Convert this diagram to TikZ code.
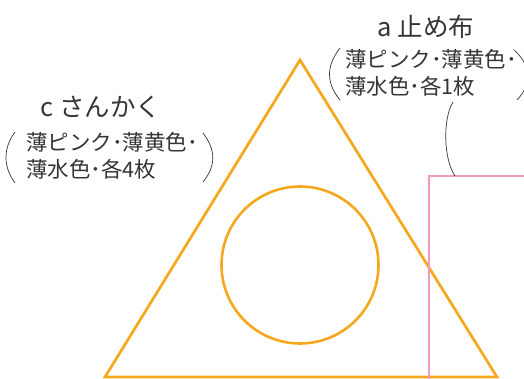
\documentclass[tikz,border=0pt]{standalone}
\usepackage{fontspec}
\usepackage{tikz}
\usepackage{xcolor}
\usetikzlibrary{positioning}
\newfontfamily\jpfont{Noto Sans CJK JP}
\definecolor{sbink}{RGB}{55, 52, 51}
\definecolor{sborange}{RGB}{245, 168, 30}
\definecolor{sbpink}{RGB}{243, 152, 194}
\tikzset{
    titlelabel/.style={text=sbink, inner sep=0pt, font=\jpfont\fontsize{25.5pt}{30pt}\selectfont},
    notelabel/.style={text=sbink, inner sep=0pt, align=left, anchor=west, font=\jpfont\fontsize{21.5pt}{26.5pt}\selectfont},
    paren/.style={draw=sbink, line width=0.7pt},
    leader/.style={draw=sbink, line width=0.7pt},
    cutline/.style={line width=2.7pt, line join=miter},
}

\begin{document}
\begin{tikzpicture}[x=1pt, y=-1pt]
    \useasboundingbox (0,0) rectangle (524,379);
    \clip (0,0) rectangle (524,379);
    % pieces
    \draw[cutline, draw=sborange] (300,60) -- (105,377) -- (497,377) -- cycle;
    \draw[cutline, draw=sborange, line width=2.6pt] (300,265) circle[radius=78.5];
    \draw[cutline, draw=sbpink, line width=2.6pt] (540,176) -- (429,176) -- (429,400);
    % c label
    \node[titlelabel] (ctitle) at (101,107) {c さんかく};
    \node[notelabel] (cnote) at (26,156) {薄ピンク･薄黄色･\\薄水色･各4枚};
    \draw[paren] (15,132) .. controls (3,148) and (3,167) .. (15,183);
    \draw[paren] (203,133) .. controls (216,150) and (216,166) .. (203,182);
    % a label
    \node[titlelabel] (atitle) at (426,27) {a 止め布};
    \node[notelabel] (anote) at (345,73) {薄ピンク･薄黄色･\\薄水色･各1枚};
    \draw[paren] (340,48) .. controls (326,66) and (326,83) .. (340,100);
    \draw[paren] (514,50) .. controls (532,66) and (532,84) .. (517,100);
    \coordinate (aend) at (455,176);
    \draw[leader] (453,102) .. controls (443,118) and (443,158) .. (aend);
\end{tikzpicture}
\end{document}
